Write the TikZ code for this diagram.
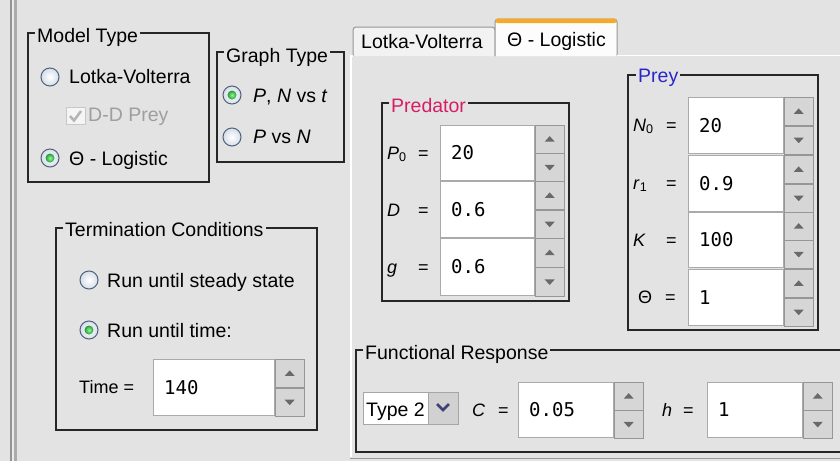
\documentclass[tikz,border=0pt]{standalone}
\usepackage{fontspec}
\setmainfont{Liberation Sans}
\newfontfamily\valmono{DejaVu Sans Mono}
\usetikzlibrary{positioning,calc}
\definecolor{panelgray}{RGB}{227,227,227}
\definecolor{grpline}{RGB}{38,38,38}
\definecolor{predcol}{RGB}{214,30,100}
\definecolor{preycol}{RGB}{40,40,200}
\definecolor{radioline}{RGB}{80,98,125}
\definecolor{radiofill}{RGB}{214,222,232}
\definecolor{radiogreen}{RGB}{40,150,60}
\definecolor{fieldline}{RGB}{170,170,170}
\definecolor{spinfill}{RGB}{214,214,214}
\definecolor{spinline}{RGB}{150,150,150}
\definecolor{arrowgray}{RGB}{105,105,105}
\definecolor{tabborder}{RGB}{150,150,150}
\definecolor{taborange}{RGB}{246,168,40}
\definecolor{checkgray}{RGB}{180,180,180}
\newcommand{\uifont}{\fontsize{19.5}{23}\selectfont}
\newcommand{\lblfont}{\fontsize{18}{21}\selectfont}
\newcommand{\valfont}{\valmono\fontsize{19}{22}\selectfont}
% number field with spinner: name, x0, y0, x1, y1, value
\newcommand{\spinfield}[6]{%
  \node[fieldbox, anchor=north west, minimum width={(#4-#2)*1pt}, minimum height={(#5-#3)*1pt}] (#1) at (#2,#3) {};
  \node[valtext, anchor=west] (#1-val) at ([xshift=11pt]#1.west) {#6};
  \node[spinbtn, anchor=north west, minimum height={(#5-#3)*0.5pt}] (#1-up) at (#1.north east) {};
  \node[spinbtn, anchor=north west, minimum height={(#5-#3)*0.5pt}] (#1-dn) at (#1-up.south west) {};
  \fill[arrowgray] ([shift={(-5pt,-2.5pt)}]#1-up.center) -- ([shift={(5pt,-2.5pt)}]#1-up.center) -- ([shift={(0pt,3pt)}]#1-up.center) -- cycle;
  \fill[arrowgray] ([shift={(-5pt,2.5pt)}]#1-dn.center) -- ([shift={(5pt,2.5pt)}]#1-dn.center) -- ([shift={(0pt,-3pt)}]#1-dn.center) -- cycle;
}

\begin{document}
\begin{tikzpicture}[
    x=1pt, y=-1pt,
    every node/.style={inner sep=0pt, font=\uifont},
    grp/.style={draw=grpline, line width=1.4pt},
    grptitle/.style={fill=panelgray, inner xsep=2pt, inner ysep=1pt, anchor=base west},
    uitext/.style={anchor=base west},
    lbl/.style={anchor=base west, font=\lblfont},
    radio/.style={circle, draw=radioline, line width=1pt, minimum size=18pt, inner color=white, outer color=radiofill},
    radiodot/.style={circle, minimum size=9pt, inner color=green!45!white, outer color=radiogreen},
    fieldbox/.style={draw=fieldline, fill=white, line width=0.8pt},
    spinbtn/.style={draw=spinline, fill=spinfill, line width=0.8pt, minimum width=29pt},
    valtext/.style={font=\valfont},
    tabline/.style={draw=tabborder, line width=1pt}
]
\useasboundingbox[fill=panelgray] (0,0) rectangle (840,461);

% window edge on the left
\fill[black!42] (9.5,0) rectangle (12,461);
\fill[black!8] (12,0) rectangle (14,461);
\fill[black!33] (14,0) rectangle (16.5,461);

% Tabs
\draw[tabline, fill=black!5, rounded corners=3pt] (353,56) -- (353,27) -- (495,27) -- (495,56);
\node[uitext] (tab-lv) at (361,48) {Lotka-Volterra};
\draw[tabline, fill=black!1, rounded corners=3pt] (495,56) -- (495,19) -- (617,19) -- (617,56);
\fill[taborange, rounded corners=2pt] (495.5,18.5) rectangle (616.5,23);
\node[uitext] (tab-lg) at (507,46) {Θ - Logistic};

% tab panel edges
\draw[white, line width=1.5pt] (351,457) -- (351,56) -- (353,56);
\draw[white, line width=1.5pt] (617,55.5) -- (840,55.5);
\draw[black!40, line width=1.5pt] (350,458.5) -- (840,458.5);

% Model Type
\draw[grp] (28,33) rectangle (209,182);
\node[grptitle] (mt-title) at (35,42) {Model Type};
\node[radio] (r-lv) at (50,77) {};
\node[uitext] (t-lv) at (69,83) {Lotka-Volterra};
\draw[draw=black!22, fill=black!4, line width=1pt] (66.5,107.5) rectangle (85,124.5);
\draw[checkgray, line width=2.5pt] (70,116) -- (74,120.5) -- (81,111);
\node[uitext, text=black!38] (t-dd) at (88,121) {D-D Prey};
\node[radio] (r-lg) at (50,158) {};
\node[radiodot] (r-lg-dot) at (r-lg.center) {};
\node[uitext] (t-lg) at (69,165) {Θ - Logistic};

% Graph Type
\draw[grp] (217,52) rectangle (344,162);
\node[grptitle] (gt-title) at (224,62) {Graph Type};
\node[radio] (r-pnt) at (232,95) {};
\node[radiodot] (r-pnt-dot) at (r-pnt.center) {};
\node[uitext] (t-pnt) at (253,102) {\textit{P}, \textit{N} vs \textit{t}};
\node[radio] (r-pn) at (232,137) {};
\node[uitext] (t-pn) at (253,143) {\textit{P} vs \textit{N}};

% Termination Conditions
\draw[grp] (56,228) rectangle (317,430);
\node[grptitle] (tc-title) at (63,236) {Termination Conditions};
\node[radio] (r-ss) at (89,280) {};
\node[uitext] (t-ss) at (107,287) {Run until steady state};
\node[radio] (r-tm) at (89,330) {};
\node[radiodot] (r-tm-dot) at (r-tm.center) {};
\node[uitext] (t-tm) at (107,337) {Run until time:};
\node[lbl] (l-time) at (79,393) {Time =};
\spinfield{f-time}{153}{359}{274}{415}{140}

% Predator
\draw[grp] (382,103) rectangle (569,301);
\node[grptitle, text=predcol] (pd-title) at (389,112) {Predator};
\node[lbl] (l-p0) at (387,159) {\makebox[31pt][l]{\textit{P}\textsubscript{0}}=};
\node[lbl] (l-d) at (387,216) {\makebox[31pt][l]{\textit{D}}=};
\node[lbl] (l-g) at (387,273) {\makebox[31pt][l]{\textit{g}}=};
\spinfield{f-p0}{440}{125}{534}{180}{20}
\spinfield{f-d}{440}{181}{534}{237}{0.6}
\spinfield{f-g}{440}{238}{534}{295}{0.6}

% Prey
\draw[grp] (628,75) rectangle (818,330);
\node[grptitle, text=preycol] (py-title) at (636,82) {Prey};
\node[lbl] (l-n0) at (633,131) {\makebox[33pt][l]{\textit{N}\textsubscript{0}}=};
\node[lbl] (l-r1) at (633,189) {\makebox[33pt][l]{\textit{r}\textsubscript{1}}=};
\node[lbl] (l-k) at (633,246) {\makebox[33pt][l]{\textit{K}}=};
\node[lbl] (l-th) at (638,303) {\makebox[27pt][l]{Θ}=};
\spinfield{f-n0}{688}{97}{783}{153}{20}
\spinfield{f-r1}{688}{155}{783}{211}{0.9}
\spinfield{f-k}{688}{212}{783}{267}{100}
\spinfield{f-th}{688}{269}{783}{325}{1}

% Functional Response
\draw[grp] (850,350) -- (356,350) -- (356,452) -- (850,452);
\node[grptitle] (fr-title) at (363,359) {Functional Response};
\draw[draw=black!35, fill=white, line width=0.8pt] (363,392) rectangle (428,424);
\node[uitext] (t-type) at (366,416) {Type 2};
\draw[draw=black!35, fill=black!18, line width=0.8pt] (428,392) rectangle (458,424);
\draw[blue!30!black!75, line width=2.5pt] (437,404) -- (443,410) -- (449,404);
\node[lbl] (l-c) at (472,416) {\makebox[26pt][l]{\textit{C}}=};
\spinfield{f-c}{518}{382}{613}{437}{0.05}
\node[lbl] (l-h) at (662,416) {\makebox[21pt][l]{\textit{h}}=};
\spinfield{f-h}{707}{382}{802}{437}{1}
\end{tikzpicture}
\end{document}
